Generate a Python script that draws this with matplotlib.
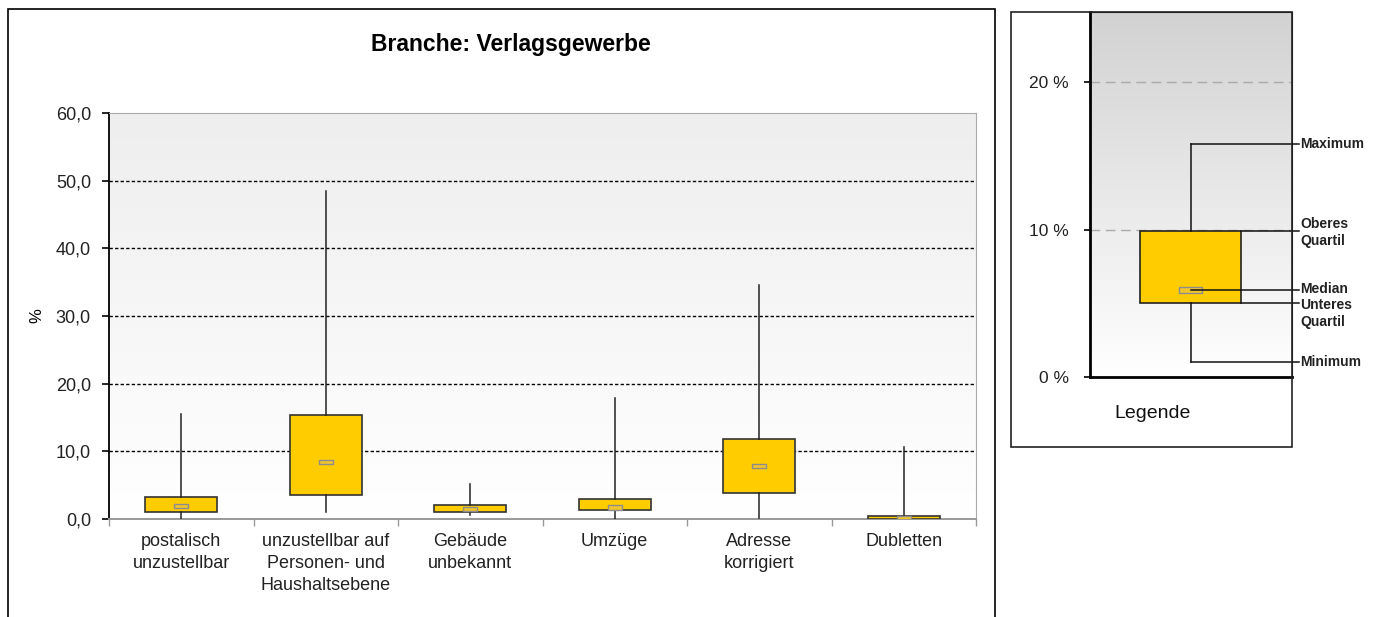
import matplotlib

matplotlib.use("Agg")
import numpy as np
from matplotlib import pyplot as plt
from matplotlib.patches import Rectangle

plt.rcParams["font.family"] = ["Liberation Sans", "DejaVu Sans"]

# data (percent)
categories = [
    "postalisch\nunzustellbar",
    "unzustellbar auf\nPersonen- und\nHaushaltsebene",
    "Gebäude\nunbekannt",
    "Umzüge",
    "Adresse\nkorrigiert",
    "Dubletten",
]
minimum = [0.0, 1.0, 0.55, 0.0, 0.1, 0.0]
lower_quartile = [1.0, 3.6, 1.0, 1.3, 3.8, 0.0]
median = [1.9, 8.4, 1.5, 1.7, 7.9, 0.2]
upper_quartile = [3.25, 15.3, 2.1, 3.0, 11.8, 0.4]
maximum = [15.5, 48.4, 5.1, 17.9, 34.6, 10.7]
y_ticks = [0, 10, 20, 30, 40, 50, 60]

legend_values = {"whislo": 1.0, "q1": 5.05, "med": 5.9, "q3": 9.9, "whishi": 15.8}
legend_ticks = [0, 10, 20]

BOX_YELLOW = "#ffcc00"
W, H = 1378, 617


def fx(px):
    return px / W


def fy(py):
    return 1 - py / H


def gradient_bg(ax, top, bottom):
    grad = np.linspace(0, 1, 256)[:, None]
    c_top = np.array(matplotlib.colors.to_rgb(top))
    c_bot = np.array(matplotlib.colors.to_rgb(bottom))
    img = c_top[None, None, :] * (1 - grad[..., None]) + c_bot[None, None, :] * grad[..., None]
    ax.imshow(img, extent=[0, 1, 0, 1], transform=ax.transAxes, aspect="auto", zorder=0)


fig = plt.figure(figsize=(W / 100, H / 100), dpi=100)

# outer frames
fig.add_artist(Rectangle((fx(8), -0.05), fx(995) - fx(8), fy(9) + 0.05,
                         transform=fig.transFigure, fill=False, edgecolor="black", lw=1.2))
fig.add_artist(Rectangle((fx(1011), fy(447)), fx(1292) - fx(1011), fy(12) - fy(447),
                         transform=fig.transFigure, fill=False, edgecolor="#222222", lw=1.2))

# main chart
ax = fig.add_axes([fx(109), fy(519), fx(976) - fx(109), fy(113) - fy(519)])
gradient_bg(ax, "#eeeeee", "#ffffff")
centers = np.arange(len(categories)) + 0.5
stats = [
    dict(whislo=lo, q1=q1, med=m, q3=q3, whishi=hi, label="")
    for lo, q1, m, q3, hi in zip(minimum, lower_quartile, median, upper_quartile, maximum)
]
ax.bxp(stats, positions=centers, widths=0.5, showcaps=False, showfliers=False, patch_artist=True,
       boxprops=dict(facecolor=BOX_YELLOW, edgecolor="#333333", linewidth=1.2),
       whiskerprops=dict(color="#222222", linewidth=1.1),
       medianprops=dict(visible=False), manage_ticks=False, zorder=3)
ax.bar(centers, 0.6, bottom=np.array(median) - 0.3, width=0.1, facecolor="#f2c62a",
       edgecolor="#8c8c8c", linewidth=1.0, zorder=4)
for y in y_ticks[1:-1]:
    ax.axhline(y, color="black", lw=1.0, dashes=(2.4, 1.6), zorder=1)
ax.set_xlim(0, len(categories))
ax.set_ylim(0, 60)
ax.set_yticks(y_ticks)
ax.set_yticklabels([f"{v:.1f}".replace(".", ",") for v in y_ticks], fontsize=13, color="#222222")
ax.tick_params(axis="y", length=5, width=1.2, pad=8, color="black")
ax.set_xticks(np.arange(len(categories) + 1))
ax.set_xticklabels([])
ax.tick_params(axis="x", which="major", length=5, width=1, color="#999999")
ax.set_xticks(centers, minor=True)
ax.set_xticklabels(categories, minor=True, fontsize=13, color="#222222", linespacing=1.4)
ax.tick_params(axis="x", which="minor", length=0, pad=10)
ax.set_ylabel("%", fontsize=12)
ax.yaxis.set_label_coords(fx(44 - 109) * W / (976 - 109), 0.5)
for side, color in [("left", "black"), ("bottom", "#999999"), ("top", "#aaaaaa"), ("right", "#aaaaaa")]:
    ax.spines[side].set_color(color)
ax.spines["left"].set_linewidth(1.3)
ax.spines["bottom"].set_linewidth(1.4)
fig.text(fx(511), fy(45), "Branche: Verlagsgewerbe", fontsize=16.5, fontweight="bold",
         ha="center", va="center")

# legend panel
lax = fig.add_axes([fx(1089.5), fy(377), fx(1291.5) - fx(1089.5), fy(12) - fy(377)])
gradient_bg(lax, "#d2d2d2", "#ffffff")
lv = legend_values
lax.bxp([dict(lv, label="")], positions=[0.5], widths=0.5, showcaps=False, showfliers=False,
        patch_artist=True,
        boxprops=dict(facecolor=BOX_YELLOW, edgecolor="#222222", linewidth=1.2),
        whiskerprops=dict(color="#111111", linewidth=1.1),
        medianprops=dict(visible=False), manage_ticks=False, zorder=3)
lax.bar([0.5], 0.4, bottom=lv["med"] - 0.2, width=0.11, facecolor="#f2c62a",
        edgecolor="#8c8c8c", linewidth=1.0, zorder=4)
for y in legend_ticks[1:]:
    lax.axhline(y, color="#aaaaaa", lw=1.0, dashes=(7, 4), zorder=1)
lax.set_xlim(0, 1)
lax.set_ylim(0, 24.75)
lax.set_xticks([])
lax.set_yticks(legend_ticks)
lax.set_yticklabels([f"{v} %" for v in legend_ticks], fontsize=12.5, color="#222222")
lax.tick_params(axis="y", length=4, width=1.2, pad=11)
lax.spines["left"].set_linewidth(2)
lax.spines["bottom"].set_linewidth(2)
lax.spines["top"].set_color("#222222")
lax.spines["right"].set_color("#222222")

line_end = 1.035
label_x = 1.045
annotations = [
    (0.5, lv["whishi"], lv["whishi"], "Maximum"),
    (0.75, lv["q3"], lv["q3"] - 0.1, "Oberes\nQuartil"),
    (0.5, lv["med"], lv["med"] + 0.1, "Median"),
    (0.75, lv["q1"], lv["q1"] - 0.75, "Unteres\nQuartil"),
    (0.5, lv["whislo"], lv["whislo"], "Minimum"),
]
for x0, y, ty, text in annotations:
    lax.plot([x0, line_end], [y, y], color="#111111", lw=1.1, clip_on=False, zorder=5)
    lax.text(label_x, ty, text, fontsize=10, fontweight="bold", ha="left", va="center",
             linespacing=1.25, color="#222222", clip_on=False)
fig.text(fx(1153), fy(413), "Legende", fontsize=14, ha="center", va="center", color="#111111")

fig.savefig("out.png", dpi=100)
